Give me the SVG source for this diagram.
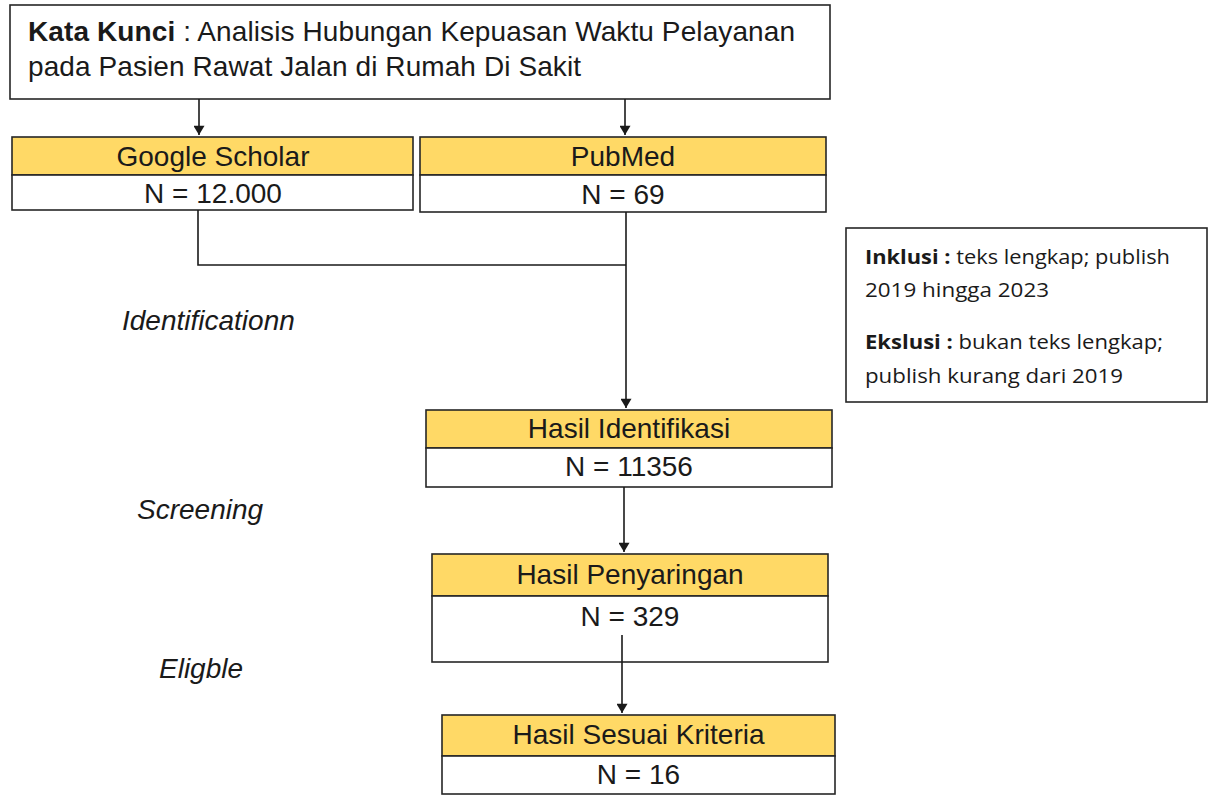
<svg xmlns="http://www.w3.org/2000/svg" width="1212" height="795" viewBox="0 0 1212 795">
<defs>
<style>
.box{fill:#fff;stroke:#262626;stroke-width:1.6}
.hdr{fill:#FFD966;stroke:#262626;stroke-width:1.6}
.t{font-family:"Liberation Sans",Arial,sans-serif;font-size:28px;fill:#1a1a1a;text-anchor:middle}
.k{font-family:"Liberation Sans",Arial,sans-serif;font-size:28px;fill:#1a1a1a}
.lbl{font-family:"Liberation Sans",Arial,sans-serif;font-size:28px;font-style:italic;fill:#1a1a1a}
.c{font-family:"Open Sans","Noto Sans",sans-serif;font-size:20px;fill:#1a1a1a}
.ln{fill:none;stroke:#1a1a1a;stroke-width:1.6}
</style>
<marker id="ah" viewBox="0 0 10 12" refX="10" refY="6" markerWidth="12" markerHeight="11" markerUnits="userSpaceOnUse" orient="auto">
<path d="M0,0 L10,6 L0,12 z" fill="#1a1a1a"/>
</marker>
</defs>
<rect width="1212" height="795" fill="#fff"/>

<g id="kata-kunci">
<rect class="box" x="10" y="5" width="820" height="94"/>
<text class="k" x="28" y="41" textLength="767"><tspan font-weight="bold">Kata Kunci</tspan> : Analisis Hubungan Kepuasan Waktu Pelayanan</text>
<text class="k" x="28" y="76" textLength="553">pada Pasien Rawat Jalan di Rumah Di Sakit</text>
</g>

<g id="google-scholar">
<rect class="hdr" x="12" y="137" width="401" height="38"/>
<rect class="box" x="12" y="175" width="401" height="35"/>
<text class="t" x="213" y="166">Google Scholar</text>
<text class="t" x="213" y="203">N = 12.000</text>
</g>

<g id="pubmed">
<rect class="hdr" x="420" y="137" width="406" height="38"/>
<rect class="box" x="420" y="175" width="406" height="37"/>
<text class="t" x="623" y="166">PubMed</text>
<text class="t" x="623" y="204">N = 69</text>
</g>

<g id="kriteria">
<rect class="box" x="846" y="228" width="361" height="174"/>
<text class="c" x="865" y="264" textLength="305" lengthAdjust="spacingAndGlyphs"><tspan font-weight="bold">Inklusi :</tspan> teks lengkap; publish</text>
<text class="c" x="865" y="297" textLength="184" lengthAdjust="spacingAndGlyphs">2019 hingga 2023</text>
<text class="c" x="865" y="349" textLength="298" lengthAdjust="spacingAndGlyphs"><tspan font-weight="bold">Ekslusi :</tspan> bukan teks lengkap;</text>
<text class="c" x="865" y="383" textLength="258" lengthAdjust="spacingAndGlyphs">publish kurang dari 2019</text>
</g>

<g id="hasil-identifikasi">
<rect class="hdr" x="426" y="410" width="406" height="38"/>
<rect class="box" x="426" y="448" width="406" height="39"/>
<text class="t" x="629" y="438">Hasil Identifikasi</text>
<text class="t" x="629" y="476">N = 11356</text>
</g>

<g id="hasil-penyaringan">
<rect class="hdr" x="432" y="554" width="396" height="42"/>
<rect class="box" x="432" y="596" width="396" height="66"/>
<text class="t" x="630" y="584">Hasil Penyaringan</text>
<text class="t" x="630" y="626">N = 329</text>
</g>

<g id="hasil-sesuai">
<rect class="hdr" x="442" y="715" width="393" height="41"/>
<rect class="box" x="442" y="756" width="393" height="38"/>
<text class="t" x="638.5" y="744">Hasil Sesuai Kriteria</text>
<text class="t" x="638.5" y="784">N = 16</text>
</g>

<g id="stage-labels">
<text class="lbl" x="122" y="330">Identificationn</text>
<text class="lbl" x="137" y="519">Screening</text>
<text class="lbl" x="159" y="678">Eligble</text>
</g>

<g id="connectors">
<line class="ln" x1="199" y1="99" x2="199" y2="135" marker-end="url(#ah)"/>
<line class="ln" x1="625" y1="99" x2="625" y2="135" marker-end="url(#ah)"/>
<polyline class="ln" points="198,210 198,265 626,265"/>
<line class="ln" x1="626" y1="212" x2="626" y2="408" marker-end="url(#ah)"/>
<line class="ln" x1="624" y1="487" x2="624" y2="552" marker-end="url(#ah)"/>
<line class="ln" x1="622" y1="635" x2="622" y2="713" marker-end="url(#ah)"/>
</g>
</svg>
